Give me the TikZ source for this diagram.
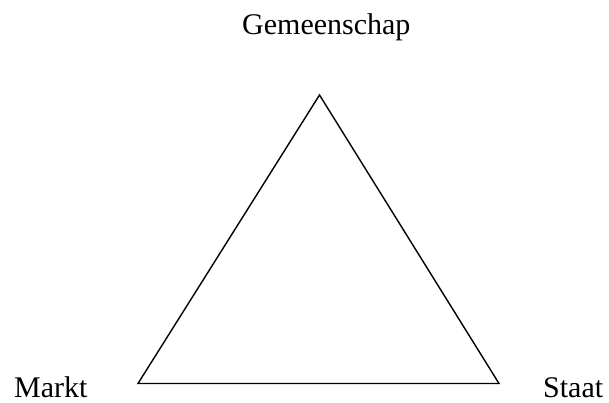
\documentclass[tikz,border=0pt]{standalone}
\usepackage{fontspec}
\setmainfont{Liberation Serif}
\begin{document}
\begin{tikzpicture}[x=1pt,y=-1pt,
  lbl/.style={inner sep=0pt,anchor=base west,font=\fontsize{30}{36}\selectfont},
  edge/.style={line width=1.4pt,line join=miter}]
\useasboundingbox (0,0) rectangle (609,403);
\coordinate (top) at (319.5,95);
\coordinate (left) at (138,383.5);
\coordinate (right) at (499,383.5);
\draw[edge] (top) -- (left) -- (right) -- cycle;
\node[lbl] (gem) at (242,35) {Gemeenschap};
\node[lbl] (markt) at (14,397) {Markt};
\node[lbl] (staat) at (543,397) {Staat};
\end{tikzpicture}
\end{document}
